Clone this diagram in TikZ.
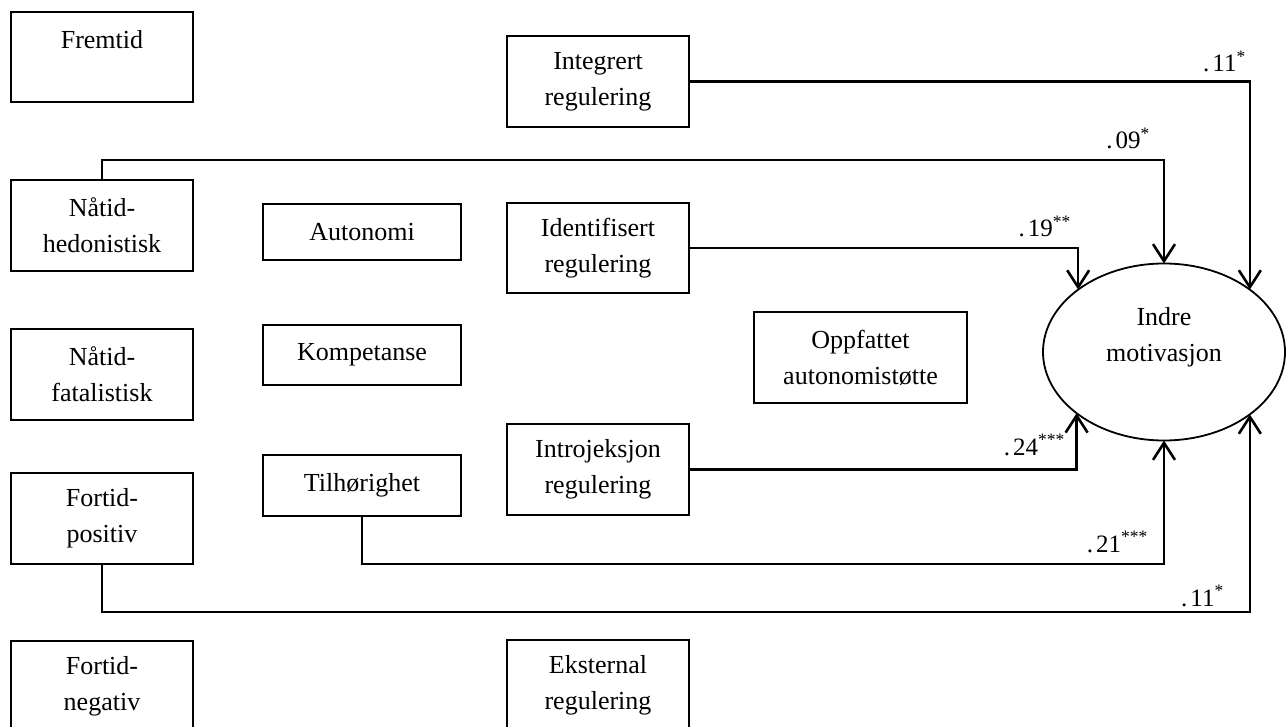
\documentclass[tikz,border=0pt]{standalone}
\usepackage{fontspec}
\setmainfont{Liberation Serif}
\usetikzlibrary{arrows.meta,shapes.geometric}
\begin{document}
\begin{tikzpicture}[x=1pt,y=-1pt,
  box/.style={draw,line width=1.8pt,rectangle,inner sep=0pt,outer sep=0pt,align=center,
    font=\fontsize{26}{36}\selectfont},
  lbox/.style={box,minimum width=182pt},
  ell/.style={draw,line width=1.8pt,ellipse,inner sep=0pt,outer sep=0pt,align=center,
    minimum width=242pt,minimum height=177pt,font=\fontsize{26}{36}\selectfont},
  conn/.style={line width=2.6pt},
  arr/.style={conn,-{Straight Barb[length=17pt,width=22pt,line width=2.6pt]}},
  coef/.style={anchor=base east,inner sep=0pt,font=\fontsize{25}{30}\selectfont}
]
\useasboundingbox (0,0) rectangle (1288,727);
% left column
\node[lbox,minimum height=90pt] (fr) at (102,57) {Fremtid\\\mbox{}};
\node[lbox,minimum height=91pt] (nh) at (102,225.5) {Nåtid-\\hedonistisk};
\node[lbox,minimum height=91pt] (nf) at (102,374.5) {Nåtid-\\fatalistisk};
\node[lbox,minimum height=91pt] (fp) at (102,518.5) {Fortid-\\positiv};
\node[lbox,minimum height=91pt] (fn) at (102,686.5) {Fortid-\\negativ};
% second column
\node[box,minimum width=198pt,minimum height=56pt] (au) at (362,232) {Autonomi};
\node[box,minimum width=198pt,minimum height=60pt] (ko) at (362,355) {Kompetanse};
\node[box,minimum width=198pt,minimum height=61pt] (ti) at (362,485.5) {Tilhørighet};
% middle column
\node[lbox,minimum height=91pt] (int) at (598,81.5) {Integrert\\regulering};
\node[lbox,minimum height=90pt] (idr) at (598,248) {Identifisert\\regulering};
\node[lbox,minimum height=91pt] (itr) at (598,469.5) {Introjeksjon\\regulering};
\node[lbox,minimum height=91pt] (eks) at (598,685.5) {Eksternal\\regulering};
\node[box,minimum width=213pt,minimum height=91pt] (opp) at (860.5,357.5) {Oppfattet\\autonomistøtte};
% outcome
\node[ell] (ell) at (1164,352) {Indre\\motivasjon\\\mbox{}};
% connectors
\draw[arr] (int.east) -| (ell.36.5);
\draw[arr] (nh.north) -- ++(0,-20) -| (ell.north);
\draw[arr] (idr.east) -| (ell.144.2);
\draw[arr] (itr.east) -| (ell.215.8);
\draw[arr] (ti.south) -- ++(0,48) -| (ell.south);
\draw[arr] (fp.south) -- ++(0,48) -| (ell.-36.5);
% coefficients
\node[coef] (l1) at (1246,72) {.\hspace{3pt}11\textsuperscript{*}};
\node[coef] (l2) at (1150,149) {.\hspace{3pt}09\textsuperscript{*}};
\node[coef] (l3) at (1071,237) {.\hspace{3pt}19\textsuperscript{**}};
\node[coef] (l4) at (1065,455) {.\hspace{3pt}24\textsuperscript{***}};
\node[coef] (l5) at (1148,552) {.\hspace{3pt}21\textsuperscript{***}};
\node[coef] (l6) at (1224,606) {.\hspace{3pt}11\textsuperscript{*}};
\end{tikzpicture}
\end{document}
